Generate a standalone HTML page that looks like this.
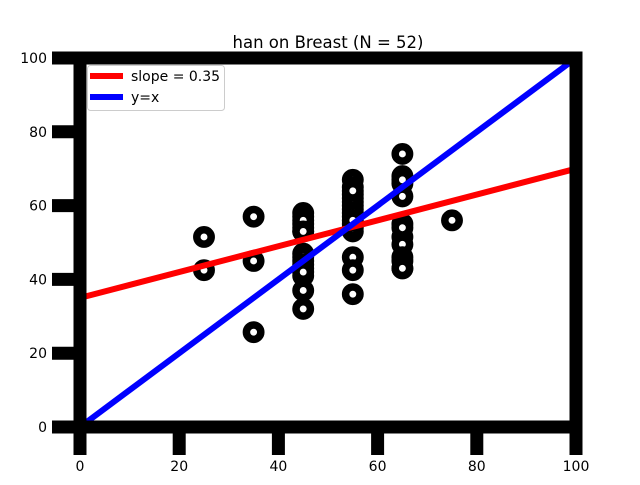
<!DOCTYPE html>
<html><head><meta charset="utf-8"><style>
body{margin:0;background:#fff}
svg text{font-family:"DejaVu Sans","Liberation Sans",sans-serif;font-size:14px}
</style></head><body>
<svg width="640" height="480" viewBox="0 0 640 480">
<g id="plot"></g>
</svg>
<script>
const xs=[25,25,35,35,35,45,45,45,45,45,45,45,45,45,45,45,45,45,55,55,55,55,55,55,55,55,55,55,55,55,55,55,65,65,65,65,65,65,65,65,65,65,65,75,45,55,65,45,55,65,55,45];
const ys=[51.5,42.5,57,45,25.7,58,57,55,54,53,47,45,43,41,37,32,56,46,67,65,63,61,59,57,55,53,46,42.5,36,60,58,54,74,68,66,62.5,55,51.5,49.5,46,45,43,67,56,53,62,43,44,56,54,64,42];
const slope=0.35, intercept=35;
const xTicks=[0,20,40,60,80,100];
const yTicks=[0,20,40,60,80,100];
const NS='http://www.w3.org/2000/svg';
const X=v=>80+v*4.96, Y=v=>427-v*3.69;
const g=document.getElementById('plot');
function mk(t,a){const e=document.createElementNS(NS,t);for(const k in a)e.setAttribute(k,a[k]);g.appendChild(e);return e;}
xs.forEach((x,i)=>{
 const c=mk('circle',{cx:X(x),cy:Y(ys[i]),r:7.2,fill:'#fff',stroke:'#000','stroke-width':7.5});
 
 
});
let l=mk('line',{x1:X(0),y1:Y(intercept),x2:X(100),y2:Y(intercept+slope*100),stroke:'#f00','stroke-width':6});


l=mk('line',{x1:X(0),y1:Y(0),x2:X(100),y2:Y(100),stroke:'#00f','stroke-width':6});


let f=mk('rect',{x:X(0),y:Y(100),width:X(100)-X(0),height:Y(0)-Y(100),fill:'none',stroke:'#000','stroke-width':13});


xTicks.forEach(v=>{
 const t=mk('line',{x1:X(v),y1:Y(0),x2:X(v),y2:455,stroke:'#000','stroke-width':13});
 
 
 const s=mk('text',{x:X(v),y:471,'text-anchor':'middle'});s.textContent=v;
 
 
});
yTicks.forEach(v=>{
 const t=mk('line',{x1:52,y1:Y(v),x2:X(0),y2:Y(v),stroke:'#000','stroke-width':13});
 
 
 const s=mk('text',{x:47,y:Y(v)+5,'text-anchor':'end'});s.textContent=v;
 
 
});
let tt=mk('text',{x:328,y:48,'text-anchor':'middle',style:'font-size:16.5px'});tt.textContent='han on Breast (N = 52)';


let lg=mk('rect',{x:87.5,y:65.5,width:137,height:45,rx:3,fill:'#fff',stroke:'#ccc','stroke-width':1});


mk('line',{x1:90,y1:76,x2:123,y2:76,stroke:'#f00','stroke-width':6});
mk('line',{x1:90,y1:97,x2:123,y2:97,stroke:'#00f','stroke-width':6});
let a=mk('text',{x:131,y:81});a.textContent='slope = 0.35';


a=mk('text',{x:131,y:102});a.textContent='y=x';


</script>
</body></html>
